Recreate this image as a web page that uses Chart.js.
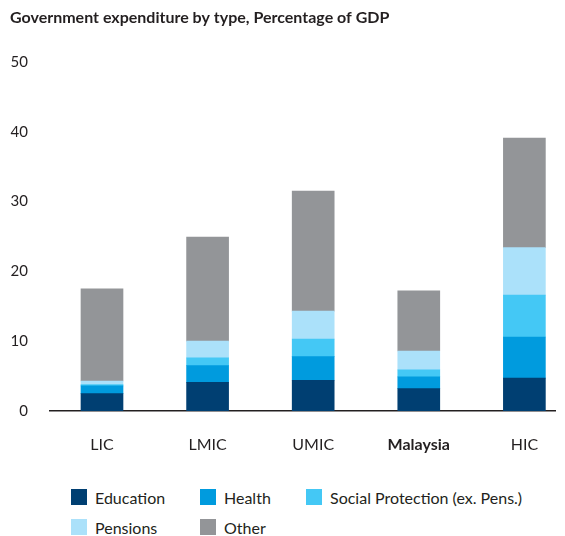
<!DOCTYPE html>
<html>
<head>
<meta charset="utf-8">
<script src="https://cdn.jsdelivr.net/npm/chart.js@4"></script>
<style>
    body { margin: 0; background: #fff; font-family: Lato, sans-serif; }
    #wrap { position: relative; width: 565px; height: 536px; }
    #chart { position: absolute; left: 0; top: 0; }
    .legendItem { position: absolute; display: flex; align-items: center; font-size: 16px; color: #231f20; white-space: nowrap; }
    .legendItem span.box { display: inline-block; width: 16px; height: 16px; margin-right: 8px; }
</style>
</head>
<body>
<div id="wrap">
    <canvas id="chart" width="565" height="470"></canvas>
    <div id="legend"></div>
</div>
<script>
const categories = ['LIC', 'LMIC', 'UMIC', 'Malaysia', 'HIC'];
const education = [2.5, 4.1, 4.4, 3.2, 4.7];
const health = [1.1, 2.4, 3.4, 1.7, 5.9];
const socialProtection = [0.2, 1.1, 2.5, 1.0, 6.0];
const pensions = [0.5, 2.4, 4.0, 2.7, 6.8];
const other = [13.2, 14.9, 17.2, 8.6, 15.7];
const yTicks = [0, 10, 20, 30, 40, 50];

const series = [
    { label: 'Education', values: education, color: '#003f72' },
    { label: 'Health', values: health, color: '#009bde' },
    { label: 'Social Protection (ex. Pens.)', values: socialProtection, color: '#44c8f5' },
    { label: 'Pensions', values: pensions, color: '#abe1fa' },
    { label: 'Other', values: other, color: '#939598' }
];

const textColor = '#231f20';

new Chart(document.getElementById('chart'), {
    type: 'bar',
    data: {
        datasets: series.map(s => ({
            label: s.label,
            data: s.values.map((v, i) => ({ x: i, y: v })),
            backgroundColor: s.color,
            borderWidth: 0,
            barThickness: 42
        }))
    },
    options: {
        responsive: false,
        animation: false,
        layout: { padding: { left: 10, right: 10, top: 0, bottom: 0 } },
        plugins: {
            legend: { display: false },
            tooltip: { enabled: false },
            title: {
                display: true,
                text: 'Government expenditure by type, Percentage of GDP',
                align: 'start',
                color: textColor,
                font: { family: 'Lato', size: 16, weight: 'bold' },
                padding: { top: 8, bottom: 34.8 }
            }
        },
        scales: {
            // linear x so the bars sit at the same uneven spacing as the original
            x: {
                type: 'linear',
                stacked: true,
                offset: false,
                bounds: 'data',
                min: -0.4924,
                max: 4.290,
                grid: { display: false, drawTicks: false },
                border: { display: true, color: textColor, width: 1.5 },
                afterBuildTicks: axis => { axis.ticks = categories.map((c, i) => ({ value: i })); },
                afterFit: axis => { axis.height = 59; },
                ticks: {
                    autoSkip: false,
                    maxRotation: 0,
                    padding: 24,
                    color: textColor,
                    callback: v => categories[v],
                    font: ctx => ({
                        family: 'Lato',
                        size: 16,
                        weight: categories[ctx.index] === 'Malaysia' ? 'bold' : 'normal'
                    })
                }
            },
            y: {
                stacked: true,
                min: 0,
                max: 50,
                grid: { display: false, drawTicks: false },
                border: { display: false },
                afterBuildTicks: axis => { axis.ticks = yTicks.map(v => ({ value: v })); },
                afterFit: axis => { axis.width = 40; },
                ticks: {
                    padding: 22,
                    color: textColor,
                    font: { family: 'Lato', size: 15 }
                }
            }
        }
    }
});

// legend laid out in a grid like the original
const legendPos = [[71, 489], [200, 489], [306, 489], [71, 519], [200, 519]];
let html = '';
series.forEach((s, i) => {
    html += `<div class="legendItem" style="left:${legendPos[i][0]}px;top:${legendPos[i][1]}px;height:16px">
        <span class="box" style="background:${s.color}"></span>${s.label}</div>`;
});
document.getElementById('legend').innerHTML = html;
</script>
</body>
</html>
